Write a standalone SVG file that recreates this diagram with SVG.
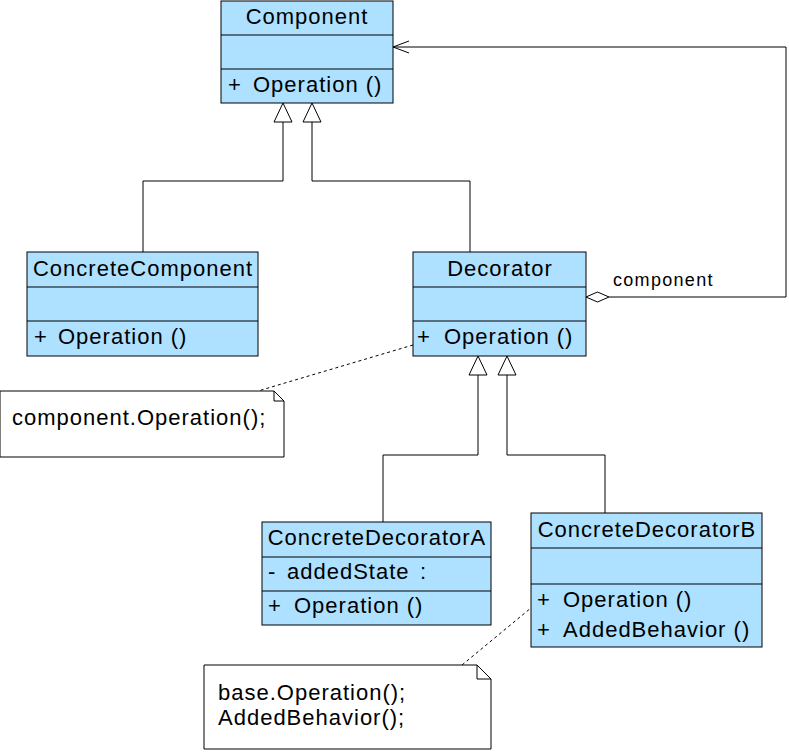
<svg xmlns="http://www.w3.org/2000/svg" width="789" height="753" viewBox="0 0 789 753">
<style>
.box{fill:#AEE0FF;stroke:#000;stroke-width:1}
.note{fill:#fff;stroke:#000;stroke-width:1}
.ln{fill:none;stroke:#000;stroke-width:1}
.dash{fill:none;stroke:#000;stroke-width:1;stroke-dasharray:3,3}
.tri{fill:#fff;stroke:#000;stroke-width:1}
text{font-family:"Liberation Sans",Arial,sans-serif;font-size:22px;letter-spacing:1px;fill:#000}
.t{text-anchor:middle}
.lbl{font-size:18px;letter-spacing:1.3px}
</style>
<rect width="789" height="753" fill="#fff"/>
<g id="connectors">
  <polyline class="ln" points="283,122 283,181 143,181 143,252"/>
  <polyline class="ln" points="312,122 312,181 470,181 470,252"/>
  <polygon class="tri" points="283,103 274,122 292,122"/>
  <polygon class="tri" points="312,103 303,122 321,122"/>
  <polyline class="ln" points="478,375 478,455 383,455 383,522"/>
  <polyline class="ln" points="507,375 507,455 605,455 605,513"/>
  <polygon class="tri" points="478,356 469,375 487,375"/>
  <polygon class="tri" points="507,356 498,375 516,375"/>
  <polyline class="ln" points="609,297 786,297 786,47 393,47"/>
  <polyline class="ln" points="409,41 393,47 409,53"/>
  <polygon class="tri" points="586,297 597.5,292 609,297 597.5,302"/>
  <text class="lbl" x="613" y="286">component</text>
  <line class="dash" x1="413" y1="345" x2="258" y2="391"/>
  <line class="dash" x1="543" y1="598" x2="462" y2="665"/>
</g>
<g id="Component">
  <rect class="box" x="221" y="1" width="172" height="102"/>
  <line class="ln" x1="221" y1="35" x2="393" y2="35"/>
  <line class="ln" x1="221" y1="69" x2="393" y2="69"/>
  <text class="t" x="307" y="24">Component</text>
  <text y="92"><tspan x="228">+</tspan><tspan x="253">Operation ()</tspan></text>
</g>
<g id="ConcreteComponent">
  <rect class="box" x="27" y="252" width="231" height="104"/>
  <line class="ln" x1="27" y1="287" x2="258" y2="287"/>
  <line class="ln" x1="27" y1="321" x2="258" y2="321"/>
  <text class="t" x="143" y="276">ConcreteComponent</text>
  <text y="344"><tspan x="34">+</tspan><tspan x="58">Operation ()</tspan></text>
</g>
<g id="Decorator">
  <rect class="box" x="413" y="252" width="173" height="104"/>
  <line class="ln" x1="413" y1="287" x2="586" y2="287"/>
  <line class="ln" x1="413" y1="321" x2="586" y2="321"/>
  <text class="t" x="500" y="276">Decorator</text>
  <text y="344"><tspan x="417">+</tspan><tspan x="444">Operation ()</tspan></text>
</g>
<g id="Note1">
  <polygon class="note" points="0,391 274,391 284,401 284,457 0,457"/>
  <polyline class="ln" points="274,391 274,401 284,401"/>
  <text x="12" y="425">component.Operation();</text>
</g>
<g id="ConcreteDecoratorA">
  <rect class="box" x="262" y="522" width="229" height="103"/>
  <line class="ln" x1="262" y1="557" x2="491" y2="557"/>
  <line class="ln" x1="262" y1="591" x2="491" y2="591"/>
  <text class="t" x="377" y="545">ConcreteDecoratorA</text>
  <text y="579"><tspan x="268">-</tspan><tspan x="287">addedState</tspan><tspan x="420">:</tspan></text>
  <text y="613"><tspan x="268">+</tspan><tspan x="294">Operation ()</tspan></text>
</g>
<g id="ConcreteDecoratorB">
  <rect class="box" x="531" y="513" width="231" height="134"/>
  <line class="ln" x1="531" y1="548" x2="762" y2="548"/>
  <line class="ln" x1="531" y1="584" x2="762" y2="584"/>
  <text class="t" x="647" y="537">ConcreteDecoratorB</text>
  <text y="607"><tspan x="537">+</tspan><tspan x="563">Operation ()</tspan></text>
  <text y="637"><tspan x="537">+</tspan><tspan x="563">AddedBehavior ()</tspan></text>
</g>
<g id="Note2">
  <polygon class="note" points="204,665 477,665 491,679 491,749 204,749"/>
  <polyline class="ln" points="477,665 477,679 491,679"/>
  <text x="218" y="700">base.Operation();</text>
  <text x="218" y="725">AddedBehavior();</text>
</g>
</svg>
